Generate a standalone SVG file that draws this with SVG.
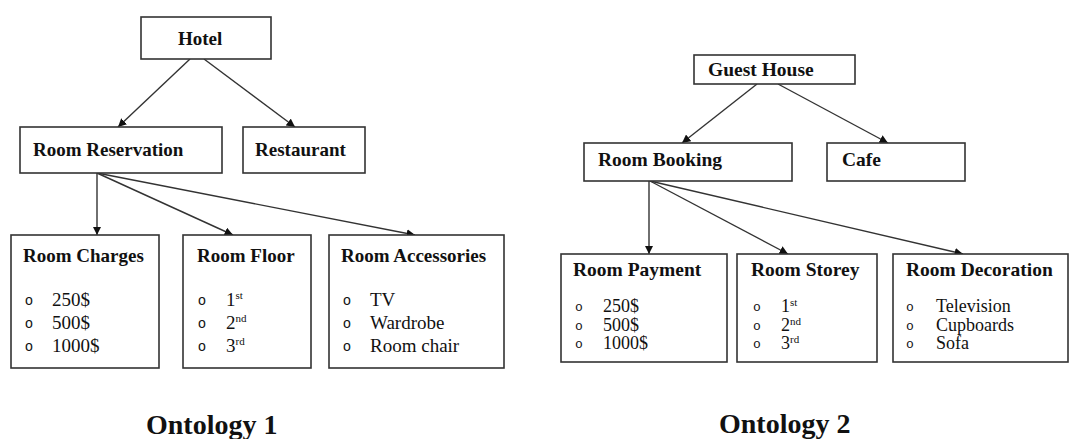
<svg xmlns="http://www.w3.org/2000/svg" width="1073" height="439" viewBox="0 0 1073 439">
<style>
.box{fill:#fff;stroke:#333;stroke-width:1.6}
.t{font-family:"Liberation Serif","Times New Roman",serif;font-weight:bold;fill:#111}
.t1{font-size:19px}
.t2{font-size:19.5px}
.it{font-family:"Liberation Serif","Times New Roman",serif;fill:#111}
.i1{font-size:19px}
.i2{font-size:18px}
.b{font-family:"Liberation Mono","Courier New",monospace;fill:#111;text-anchor:middle}
.b1{font-size:14px}
.b2{font-size:13px}
.sup{font-size:11px}
.cap{font-family:"Liberation Serif","Times New Roman",serif;font-weight:bold;font-size:28px;fill:#111}
.c line{stroke:#333;stroke-width:1.4;marker-end:url(#ah)}
</style>
<defs>
<marker id="ah" viewBox="0 0 10 10" refX="10" refY="5" markerWidth="6" markerHeight="6" markerUnits="strokeWidth" orient="auto">
<path d="M0,0 L10,5 L0,10 z" fill="#111"/>
</marker>
</defs>
<rect width="1073" height="439" fill="#fff"/>

<g id="connectors" class="c">
<line x1="190" y1="59" x2="118" y2="127"/>
<line x1="204" y1="59" x2="295" y2="127"/>
<line x1="97" y1="173" x2="97" y2="235"/>
<line x1="97" y1="173" x2="233" y2="235"/>
<line x1="97" y1="173" x2="415" y2="235"/>
<line x1="757" y1="84" x2="682" y2="143"/>
<line x1="778" y1="84" x2="888" y2="143"/>
<line x1="649" y1="181" x2="649" y2="254"/>
<line x1="650" y1="181" x2="788" y2="254"/>
<line x1="650" y1="181" x2="963" y2="254"/>
</g>

<g id="hotel"><rect class="box" x="141" y="17" width="130" height="42"/><text class="t t1" x="178" y="45">Hotel</text></g>
<g id="room-reservation"><rect class="box" x="20" y="127" width="202" height="46"/><text class="t t1" x="33" y="156">Room Reservation</text></g>
<g id="restaurant"><rect class="box" x="243" y="127" width="122" height="46"/><text class="t t1" x="255" y="156">Restaurant</text></g>

<g id="room-charges"><rect class="box" x="11" y="235" width="148" height="133"/>
<text class="t t1" x="23" y="262">Room Charges</text>
<text class="b b1" x="29" y="305">o</text><text class="it i1" x="52" y="306">250$</text>
<text class="b b1" x="29" y="328">o</text><text class="it i1" x="52" y="329">500$</text>
<text class="b b1" x="29" y="351">o</text><text class="it i1" x="52" y="352">1000$</text>
</g>
<g id="room-floor"><rect class="box" x="183" y="235" width="128" height="133"/>
<text class="t t1" x="197" y="262">Room Floor</text>
<text class="b b1" x="202" y="305">o</text><text class="it i1" x="226" y="306">1<tspan class="sup" dy="-7">st</tspan></text>
<text class="b b1" x="202" y="328">o</text><text class="it i1" x="226" y="329">2<tspan class="sup" dy="-7">nd</tspan></text>
<text class="b b1" x="202" y="351">o</text><text class="it i1" x="226" y="352">3<tspan class="sup" dy="-7">rd</tspan></text>
</g>
<g id="room-accessories"><rect class="box" x="329" y="235" width="175" height="133"/>
<text class="t t1" x="341" y="262">Room Accessories</text>
<text class="b b1" x="347" y="305">o</text><text class="it i1" x="370" y="306">TV</text>
<text class="b b1" x="347" y="328">o</text><text class="it i1" x="370" y="329">Wardrobe</text>
<text class="b b1" x="347" y="351">o</text><text class="it i1" x="370" y="352">Room chair</text>
</g>
<text class="cap" x="146" y="434">Ontology 1</text>

<g id="guest-house"><rect class="box" x="694" y="55" width="161" height="29"/><text class="t t2" x="708" y="76">Guest House</text></g>
<g id="room-booking"><rect class="box" x="584" y="143" width="208" height="38"/><text class="t t2" x="598" y="166">Room Booking</text></g>
<g id="cafe"><rect class="box" x="827" y="143" width="138" height="38"/><text class="t t2" x="842" y="166">Cafe</text></g>

<g id="room-payment"><rect class="box" x="561" y="254" width="166" height="108"/>
<text class="t t2" x="573" y="276">Room Payment</text>
<text class="b b2" x="579" y="311">o</text><text class="it i2" x="603" y="312">250$</text>
<text class="b b2" x="579" y="330">o</text><text class="it i2" x="603" y="330.5">500$</text>
<text class="b b2" x="579" y="348">o</text><text class="it i2" x="603" y="349">1000$</text>
</g>
<g id="room-storey"><rect class="box" x="737" y="254" width="140" height="108"/>
<text class="t t2" x="751" y="276">Room Storey</text>
<text class="b b2" x="757" y="311">o</text><text class="it i2" x="781" y="312">1<tspan class="sup" dy="-6">st</tspan></text>
<text class="b b2" x="757" y="330">o</text><text class="it i2" x="781" y="330.5">2<tspan class="sup" dy="-6">nd</tspan></text>
<text class="b b2" x="757" y="348">o</text><text class="it i2" x="781" y="349">3<tspan class="sup" dy="-6">rd</tspan></text>
</g>
<g id="room-decoration"><rect class="box" x="893" y="254" width="175" height="108"/>
<text class="t t2" x="906" y="276">Room Decoration</text>
<text class="b b2" x="910" y="311">o</text><text class="it i2" x="936" y="312">Television</text>
<text class="b b2" x="910" y="330">o</text><text class="it i2" x="936" y="330.5">Cupboards</text>
<text class="b b2" x="910" y="348">o</text><text class="it i2" x="936" y="349">Sofa</text>
</g>
<text class="cap" x="719" y="433">Ontology 2</text>
</svg>
